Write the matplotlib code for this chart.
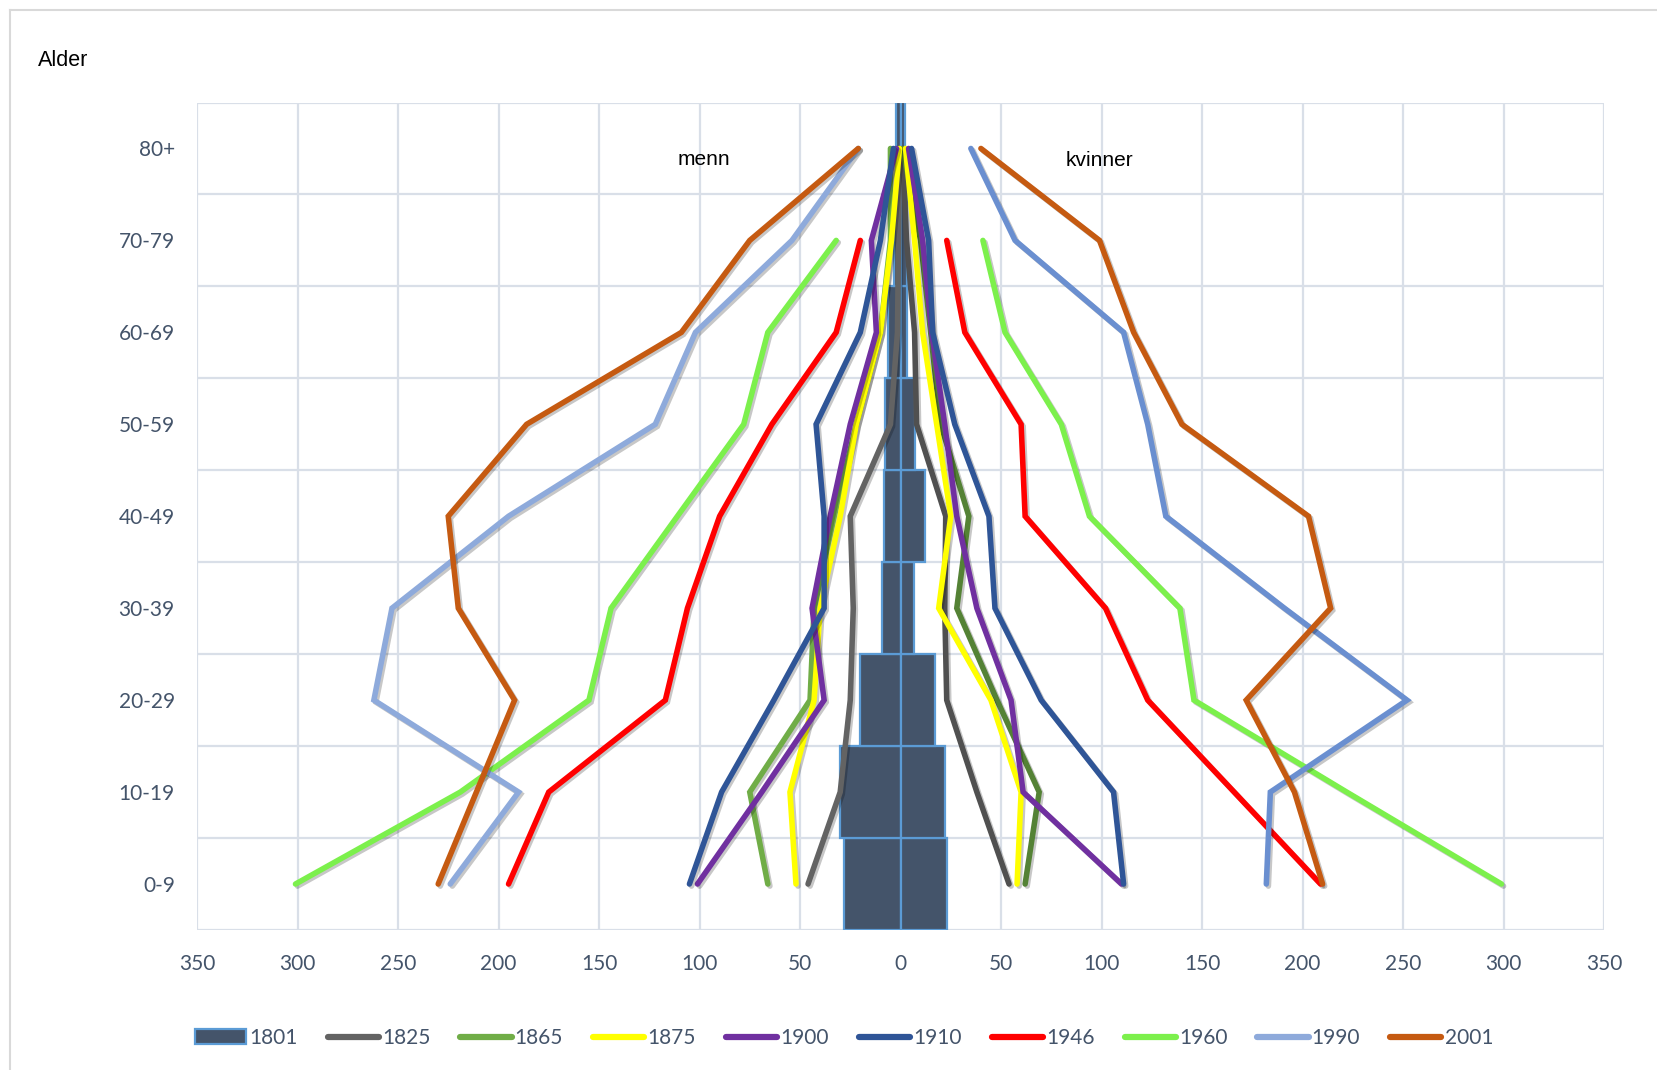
import matplotlib
matplotlib.use("Agg")
import matplotlib.pyplot as plt
import matplotlib.patheffects as pe
from matplotlib.lines import Line2D
from matplotlib.patches import Patch
import numpy as np

# ---------------- data ----------------
age_groups = ["0-9", "10-19", "20-29", "30-39", "40-49", "50-59", "60-69", "70-79", "80+"]

years = ["1801", "1825", "1865", "1875", "1900", "1910", "1946", "1960", "1990", "2001"]

# 1801 shown as bars (men negative, women positive)
men_1801 = [-28, -30, -20, -9, -8, -7.5, -6, -3, -2]
women_1801 = [23, 22, 17, 6.5, 12, 7, 3, 3, 2]

# other years, lines (men negative, women positive), ordered 0-9 ... 80+
men_1825 = [-46, -30, -25, -23.5, -25, -5, -1.5, -1, -0.5]
women_1825 = [54, 38, 23, 22, 22.5, 8, 7, 3, 1]

men_1865 = [-66, -75, -45, -43, -33, -22, -10, -5, -5]
women_1865 = [62, 69, 48, 28, 34, 20, 15, 10, 1]

men_1875 = [-52, -55, -43, -40, -30, -22, -10, -4.5, -0.5]
women_1875 = [58, 60, 45, 19, 25, 18, 11, 7, 2.5]

men_1900 = [-101, -69, -38, -44, -35, -25, -12, -14.5, -2]
women_1900 = [110, 61, 55, 38, 28, 22, 15.5, 11, 4]

men_1910 = [-105, -89, -63, -38, -38, -42, -20, -10, -3.5]
women_1910 = [111, 106, 70, 47, 44, 27, 16, 14, 5.5]

men_1946 = [-195, -175, -117, -106, -90, -64, -32, -20, np.nan]
women_1946 = [209, 166, 123, 102, 62, 60, 32, 23, np.nan]

men_1960 = [-301, -219, -155, -144, -111, -78, -66, -32, np.nan]
women_1960 = [299, 222, 146, 139, 94, 80, 52, 41, np.nan]

men_1990 = [-224, -190, -262, -253, -195, -122, -102, -54, -21]
women_1990 = [182, 184, 252, 191, 132, 123, 111, 57, 35]

men_2001 = [-230, -211, -192, -220, -225, -186, -109, -75, -21]
women_2001 = [210, 196, 172, 214, 203, 140, 116, 99, 40]

x_ticks = [-350, -300, -250, -200, -150, -100, -50, 0, 50, 100, 150, 200, 250, 300, 350]

line_series = [
    ("1825", men_1825, women_1825, "#636363", "#505050"),
    ("1865", men_1865, women_1865, "#70ad47", "#548235"),
    ("1875", men_1875, women_1875, "#ffff00", "#ffff00"),
    ("1900", men_1900, women_1900, "#7030a0", "#7030a0"),
    ("1910", men_1910, women_1910, "#2f5597", "#2f5597"),
    ("1946", men_1946, women_1946, "#ff0000", "#ff0000"),
    ("1960", men_1960, women_1960, "#7cf04c", "#7cf04c"),
    ("1990", men_1990, women_1990, "#8eaadb", "#6a8fd0"),
    ("2001", men_2001, women_2001, "#c55a11", "#c55a11"),
]

# ---------------- figure ----------------
W, H = 1657, 1070
fig = plt.figure(figsize=(W / 100, H / 100), dpi=100)
fig.patch.set_facecolor("white")

ax = fig.add_axes([197 / W, 1 - 930 / H, (1604 - 197) / W, (930 - 102.5) / H])

y = np.arange(len(age_groups))
bar_face = "#44546a"
bar_edge = "#5b9bd5"
ax.barh(y, men_1801, height=1.0, color=bar_face, edgecolor=bar_edge, linewidth=1.6, zorder=2)
ax.barh(y, women_1801, height=1.0, color=bar_face, edgecolor=bar_edge, linewidth=1.6, zorder=2)

shadow = [pe.SimpleLineShadow(offset=(1.5, -1.5), shadow_color="black", alpha=0.22), pe.Normal()]
for i, (name, men, women, cm, cw) in enumerate(line_series):
    for vals, col in ((men, cm), (women, cw)):
        ax.plot(vals, y, color=col, lw=4.0, solid_capstyle="round", solid_joinstyle="miter",
                zorder=3 + i, path_effects=shadow)

ax.set_xlim(-350, 350)
ax.set_ylim(-0.5, 8.5)
ax.set_xticks(x_ticks)
ax.set_xticklabels([str(abs(v)) for v in x_ticks])
ax.set_yticks(y)
ax.set_yticklabels(age_groups)
ax.set_yticks(np.arange(-0.5, 9.0, 1.0), minor=True)

grid_col = "#d9dfe8"
ax.grid(axis="x", which="major", color=grid_col, lw=1.6, zorder=0)
ax.grid(axis="y", which="minor", color=grid_col, lw=1.6, zorder=0)
ax.grid(axis="y", which="major", visible=False)
for s in ax.spines.values():
    s.set_visible(False)
ax.set_axisbelow(True)

tick_font = "Lato"
ax.tick_params(axis="both", which="both", length=0)
ax.tick_params(axis="x", pad=17, labelsize=15, labelcolor="#44546a")
ax.tick_params(axis="y", pad=16, labelsize=15, labelcolor="#44546a")
for lab in ax.get_xticklabels() + ax.get_yticklabels():
    lab.set_fontfamily(tick_font)

ax.text(-98, 7.88, "menn", ha="center", va="center", fontsize=15,
        family="Liberation Sans", color="black", zorder=20)
ax.text(99, 7.87, "kvinner", ha="center", va="center", fontsize=15,
        family="Liberation Sans", color="black", zorder=20)

fig.text(38 / W, 1 - 60 / H, "Alder", ha="left", va="center", fontsize=15.5,
         family="Liberation Sans", color="black")

# outer frame (top and left visible)
fig.add_artist(Line2D([10 / W, 1.0], [1 - 10 / H, 1 - 10 / H], color="#d9d9d9", lw=1.5,
                      transform=fig.transFigure))
fig.add_artist(Line2D([10 / W, 10 / W], [0.0, 1 - 10 / H], color="#d9d9d9", lw=1.5,
                      transform=fig.transFigure))

# legend
handles = [Patch(facecolor=bar_face, edgecolor=bar_edge, linewidth=1.6)]
for name, men, women, cm, cw in line_series:
    handles.append(Line2D([0], [0], color=cm, lw=4.5, solid_capstyle="round"))
leg = fig.legend(handles, years, loc="center", ncol=10, frameon=False,
                 bbox_to_anchor=(844 / W, 1 - 1038 / H), handlelength=2.45,
                 handletextpad=0.15, columnspacing=1.45,
                 prop={"family": tick_font, "size": 15})
for t in leg.get_texts():
    t.set_color("#44546a")

fig.savefig("out.png", dpi=100, facecolor="white")
